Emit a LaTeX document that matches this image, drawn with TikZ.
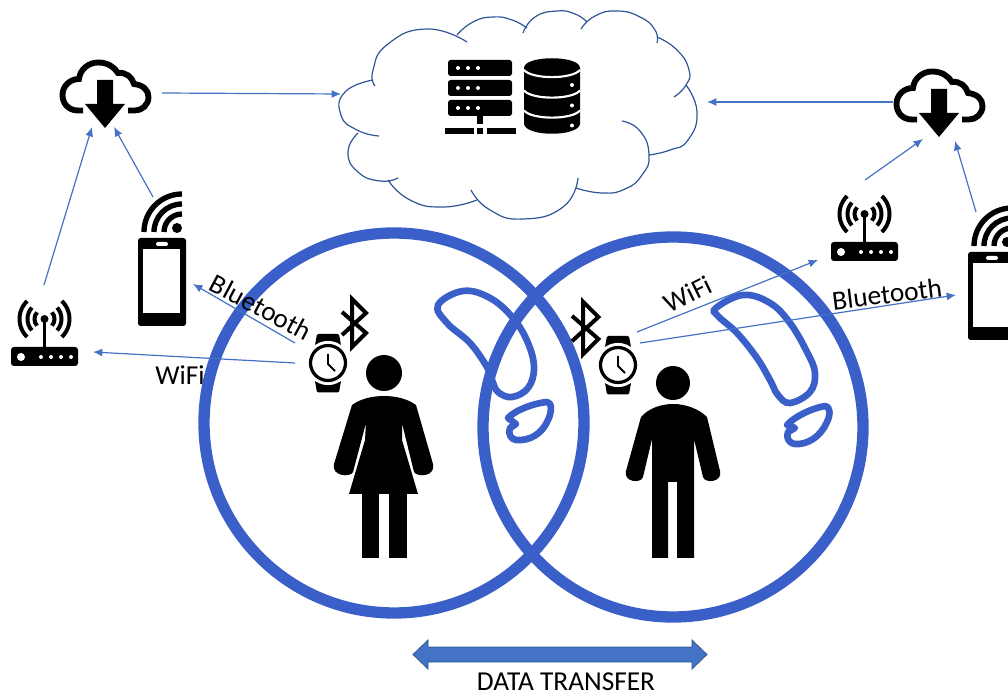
\documentclass[tikz,border=0pt]{standalone}
\usepackage{fontspec}
\setmainfont{Carlito}
\usetikzlibrary{arrows.meta}
\definecolor{ringblue}{RGB}{58,95,200}
\definecolor{linkblue}{RGB}{68,114,196}
\definecolor{cloudedge}{RGB}{47,85,151}
\tikzset{
    link/.style={linkblue, line width=0.9pt, -{Latex[length=7pt,width=6pt]}},
    ring/.style={ringblue, line width=8.5pt},
    blob/.style={ringblue, line width=5pt},
    puff/.style={cloudedge, line width=0.9pt},
    tag/.style={font=\fontsize{20.5}{22}\selectfont, inner sep=0pt},
    % cloud with arrow, origin at the arrow tip
    dlcloud/.pic={
        \draw[line width=4.4pt] (-22,-17.5) -- (-27,-17.5) .. controls (-37,-17.5) and (-42.5,-25) .. (-42.5,-33)
            .. controls (-42.5,-42) and (-35,-49) .. (-26,-49)
            .. controls (-25,-59) and (-16,-65.5) .. (-7,-65.5)
            .. controls (3,-65.5) and (9,-61) .. (13,-55)
            .. controls (21,-56) and (27,-51) .. (29,-44)
            .. controls (38,-43) and (43.5,-38) .. (43.5,-31)
            .. controls (43.5,-23) and (37,-17.5) .. (30,-17.5) -- (23,-17.5);
        \fill (-8,-48) -- (8,-48) -- (8,-24) -- (20,-24) -- (0,0) -- (-20,-24) -- (-8,-24) -- cycle;
    },
    % router, origin at the antenna ball
    router/.pic={
        \fill[rounded corners=2.2pt] (-33.5,28) rectangle (33.5,47);
        \fill[white] (-23.5,38) circle (4);
        \foreach \dotx in {-3.5,6.5,16.5,26.5} \fill[white] (\dotx,38) circle (2);
        \fill (0,0) circle (4);
        \draw[line width=2.6pt] (0,0) -- (0,30);
        \foreach \wave/\span in {10/42,17/42,25/46} {
            \draw[line width=3pt] (-\span:\wave) arc (-\span:\span:\wave);
            \draw[line width=3pt] (180-\span:\wave) arc (180-\span:180+\span:\wave);
        }
    },
    % phone with signal, origin at the top left of the body
    phone/.pic={
        \fill[rounded corners=2pt] (0,0) rectangle (48,88);
        \fill[white] (5,11) rectangle (42,75);
        \fill[white, rounded corners=1.5pt] (18,4) rectangle (30,8);
        \fill (39,-10) circle (5);
        \foreach \wave in {18,28,38}
            \draw[line width=4pt] (44-\wave,-6) arc (180:270:\wave);
    },
    % watch, origin at the dial centre
    watch/.pic={
        \fill[rounded corners=1pt] (-11,-29) -- (11,-29) -- (13.5,-15) -- (-13.5,-15) -- cycle;
        \fill[rounded corners=1pt] (-11,29.5) -- (11,29.5) -- (13.5,15) -- (-13.5,15) -- cycle;
        \fill (-21,-3) rectangle (-17,3);
        \draw[line width=2.4pt, fill=white, draw=white] (0,0) circle (20.5);
        \draw[line width=2.4pt, fill=white] (0,0) circle (17.5);
        \draw[line width=1.4pt] (0,-9) -- (0,1) -- (7,8);
    },
    % bluetooth rune, origin at its centre
    btsign/.pic={
        \draw[line width=3pt, miter limit=6] (-10,-11) -- (14,10) -- (0,24) -- (0,-24) -- (14,-10) -- (-10,12);
    },
}
\begin{document}
\begin{tikzpicture}[x=0.75pt, y=-0.75pt]
    \path[use as bounding box, clip] (0,0) rectangle (1008,695);

    % Left WiFi label sits under the ring
    \node[tag] (wifiL) at (180,375) {WiFi};

    % Overlapping body rings
    \draw[ring] (394,423) circle (190);
    \draw[ring] (673,427) circle (190);

    % Blobs in the left ring
    \draw[blob] plot[smooth cycle, tension=0.65] coordinates {(438,305) (463,291) (490,298) (513,318) (528,343) (534,368) (528,388) (512,397) (498,392) (492,380) (487,367) (470,343) (447,323)};
    \draw[blob, line join=round] (508,418) .. controls (515,410) and (535,403) .. (547,402) .. controls (552,402) and (552,412) .. (548,420)
        .. controls (542,434) and (530,441) .. (516,440) .. controls (510,439) and (508,433) .. (510,428) -- (516,424) -- cycle;

    % Blobs in the right ring
    \draw[blob] plot[smooth cycle, tension=0.65] coordinates {(716,308) (743,295) (770,303) (790,323) (807,352) (815,373) (810,392) (790,403) (778,395) (770,380) (757,358) (737,333) (718,316)};
    \draw[blob, line join=round] (787,425) .. controls (795,416) and (813,408) .. (825,406) .. controls (830,406) and (831,414) .. (827,422)
        .. controls (821,436) and (808,445) .. (795,444) .. controls (788,443) and (786,437) .. (788,432) -- (795,428) -- cycle;

    % Central cloud, one stroke per puff
    \draw[puff] plot[smooth, tension=0.9] coordinates {(375,86) (373,70) (388,44) (427,29) (467,42)};
    \draw[puff] plot[smooth, tension=0.9] coordinates {(457,35) (473,22) (493,17) (512,20) (527,28)};
    \draw[puff] plot[smooth, tension=0.9] coordinates {(523,33) (535,17) (557,11) (575,14) (587,22)};
    \draw[puff] plot[smooth, tension=0.9] coordinates {(581,29) (595,16) (617,11) (640,17) (655,30) (657,43)};
    \draw[puff] plot[smooth, tension=0.9] coordinates {(657,37) (677,50) (689,70) (686,85) (674,97)};
    \draw[puff] plot[smooth, tension=0.9] coordinates {(686,85) (697,112) (688,140) (670,150) (649,155)};
    \draw[puff] plot[smooth, tension=0.9] coordinates {(622,121) (640,131) (649,155) (642,175) (625,189) (602,193) (576,188)};
    \draw[puff] plot[smooth, tension=0.9] coordinates {(578,178) (563,207) (523,219) (490,210) (471,190)};
    \draw[puff] plot[smooth, tension=0.9] coordinates {(477,200) (443,207) (410,200) (388,180)};
    \draw[puff] plot[smooth, tension=0.9] coordinates {(398,178) (380,181) (358,172) (348,152) (358,133)};
    \draw[puff] plot[smooth, tension=0.9] coordinates {(379,136) (357,130) (341,115) (345,92) (373,80)};

    % Server rack
    \foreach \rowy in {60,80,100} {
        \fill[rounded corners=2pt] (448,\rowy) rectangle (512,\rowy+16);
        \foreach \dotx in {458,468,478} \fill[white] (\dotx,\rowy+8) circle (2);
    }
    \fill (477,116) rectangle (483,124);
    \fill (445,128) rectangle (474,134);
    \fill (477,128) rectangle (483,134);
    \fill (487,128) rectangle (516,134);

    % Database drum
    \fill (524,68) .. controls (524,55) and (580,55) .. (580,68) -- (580,124) .. controls (578,137) and (526,137) .. (524,124) -- cycle;
    \foreach \rimy in {70,90.5,110.5} {
        \draw[white, line width=1.6pt] (524,\rimy) .. controls (532,\rimy+9.5) and (572,\rimy+9.5) .. (580,\rimy);
        \fill[white] (572,\rimy+15) circle (2);
    }

    % Icons on the sides
    \pic at (105,128) {dlcloud};
    \pic at (939,137) {dlcloud};
    \pic at (44.5,319) {router};
    \pic at (864.5,214) {router};
    \pic at (138,238) {phone};
    \pic at (968,252) {phone};

    % Wearers
    \fill (384,373) circle (18);
    \fill (384,396) .. controls (372,396) and (360,399) .. (352,405) -- (334,464)
        .. controls (331,476) and (350,478) .. (353,472) -- (366,423) -- (365,440) -- (349,494) -- (418,494)
        -- (402,440) -- (402,423) -- (414,472) .. controls (418,478) and (436,476) .. (433,464)
        -- (416,405) .. controls (408,399) and (396,396) .. (384,396) -- cycle;
    \fill (362,490) rectangle (379,558);
    \fill (389,490) rectangle (407,558);

    \fill (673,383) circle (17);
    \fill (673,404) .. controls (660,404) and (648,409) .. (641,417) -- (626,471)
        .. controls (623,482) and (641,484) .. (643,477) -- (652,439) -- (652,558) -- (668,558) -- (668,482)
        -- (677,482) -- (677,558) -- (694,558) -- (694,439) -- (703,477)
        .. controls (705,484) and (723,482) .. (720,471) -- (707,417)
        .. controls (699,409) and (686,404) .. (673,404) -- cycle;

    \pic at (328,363) {watch};
    \pic at (618,365) {watch};
    \pic at (352,323) {btsign};
    \pic[scale=1.1] at (583,328) {btsign};

    % Connector ends
    \coordinate (cloudLout) at (162,93);
    \coordinate (storeL) at (341,94);
    \coordinate (cloudRout) at (893,102);
    \coordinate (storeR) at (707,102);
    \coordinate (routerLout) at (44,285);
    \coordinate (cloudLa) at (92,127);
    \coordinate (phoneLout) at (153,197);
    \coordinate (cloudLb) at (114,127);
    \coordinate (watchLa) at (295,343);
    \coordinate (phoneLin) at (193,284);
    \coordinate (watchLb) at (295,363);
    \coordinate (routerLin) at (93,352);
    \coordinate (watchRa) at (637,332);
    \coordinate (routerRin) at (818,260);
    \coordinate (watchRb) at (640,343);
    \coordinate (phoneRin) at (956,295);
    \coordinate (routerRout) at (865,180);
    \coordinate (cloudRa) at (923,139);
    \coordinate (phoneRout) at (976,212);
    \coordinate (cloudRb) at (955,141);

    % Links
    \draw[link] (cloudLout) -- (storeL);
    \draw[link] (cloudRout) -- (storeR);
    \draw[link] (routerLout) -- (cloudLa);
    \draw[link] (phoneLout) -- (cloudLb);
    \draw[link] (watchLa) -- (phoneLin);
    \draw[link] (watchLb) -- (routerLin);
    \draw[link] (watchRa) -- (routerRin);
    \draw[link] (watchRb) -- (phoneRin);
    \draw[link] (routerRout) -- (cloudRa);
    \draw[link] (phoneRout) -- (cloudRb);

    % Link labels
    \node[tag, rotate=-28] (btL) at (261,307) {Bluetooth};
    \node[tag, rotate=26] (wifiR) at (688,294) {WiFi};
    \node[tag, rotate=7] (btR) at (887,294) {Bluetooth};

    % Data transfer arrow
    \draw[fill=linkblue, draw=cloudedge, line width=0.6pt] (413,654.5) -- (428,640) -- (428,647) -- (692,647) -- (692,640) -- (707,654.5) -- (692,669) -- (692,662) -- (428,662) -- (428,669) -- cycle;
    \node[tag] (xfer) at (566,682) {DATA TRANSFER};
\end{tikzpicture}
\end{document}
